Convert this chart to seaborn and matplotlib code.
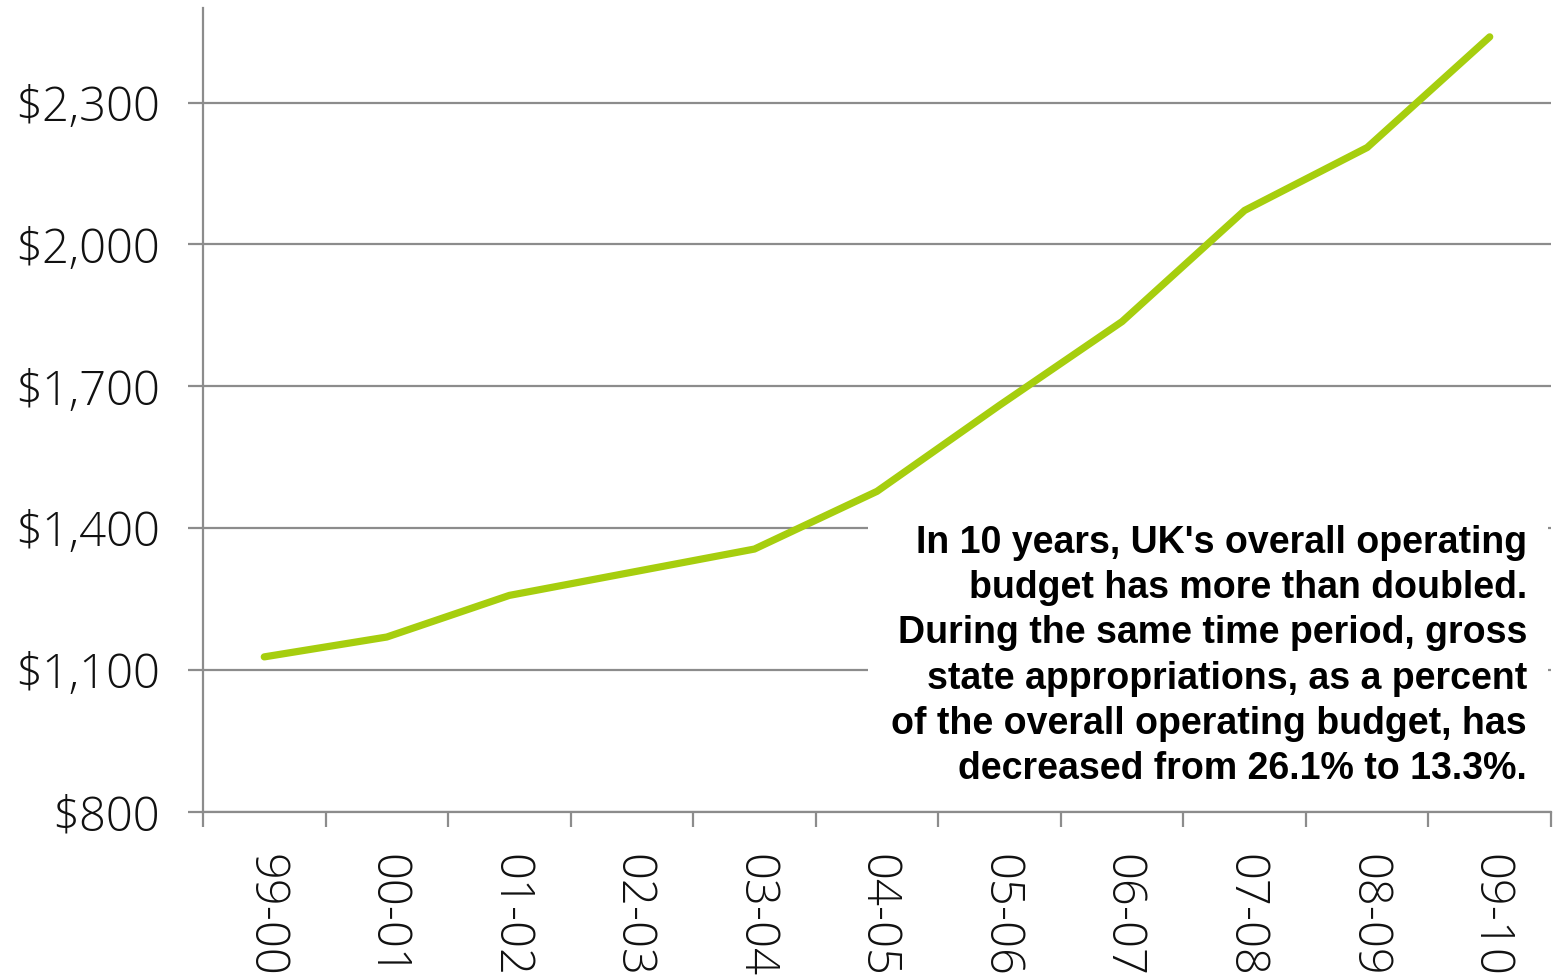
import matplotlib
matplotlib.use("Agg")
import matplotlib.pyplot as plt
import seaborn as sns
import pandas as pd
from matplotlib.patches import Rectangle
from matplotlib.ticker import FuncFormatter

# Fiscal years and overall operating budget (millions of dollars)
years = ["99-00", "00-01", "01-02", "02-03", "03-04", "04-05",
         "05-06", "06-07", "07-08", "08-09", "09-10"]
budget = [1128, 1170, 1258, 1307, 1356, 1478, 1660, 1837, 2072, 2205, 2439]
y_ticks = [800, 1100, 1400, 1700, 2000, 2300]

note = ("In 10 years, UK's overall operating\n"
        "budget has more than doubled.\n"
        "During the same time period, gross\n"
        "state appropriations, as a percent\n"
        "of the overall operating budget, has\n"
        "decreased from 26.1% to 13.3%.")

df = pd.DataFrame({"year": years, "budget": budget})

sns.set_theme(style="white")
plt.rcParams["font.family"] = ["Open Sans", "DejaVu Sans"]

fig = plt.figure(figsize=(15.57, 9.8), dpi=100)
ax = fig.add_axes([203 / 1557, 1 - 812 / 980, (1551 - 203) / 1557, (812 - 8) / 980])

grid_c = "#8c8c8c"
label_c = "#111111"
sns.lineplot(data=df, x="year", y="budget", ax=ax, color="#a6ce0e",
             linewidth=5.2, solid_capstyle="round", solid_joinstyle="round",
             zorder=4)

ax.set_xlim(-0.5, len(years) - 0.5)
ax.set_ylim(800, 2500)
ax.set_yticks(y_ticks)
ax.yaxis.set_major_formatter(FuncFormatter(lambda v, p: f"${v:,.0f}"))
ax.grid(axis="y", color=grid_c, linewidth=1.6, zorder=1)
ax.grid(axis="x", visible=False)

# Category boundaries carry the tick marks, centres carry the labels
ax.set_xticks([i - 0.5 for i in range(len(years) + 1)])
ax.set_xticklabels([])
ax.set_xticks(range(len(years)), minor=True)
ax.set_xticklabels(years, minor=True, rotation=270, fontsize=34,
                   fontweight="light", color=label_c)
ax.tick_params(axis="x", which="major", length=11, width=1.6, color=grid_c,
               direction="out", bottom=True)
ax.tick_params(axis="x", which="minor", length=0, pad=30, bottom=True)
ax.tick_params(axis="y", length=11, width=1.6, color=grid_c, direction="out",
               left=True, labelsize=34, pad=20, labelcolor=label_c)
for lbl in ax.get_yticklabels():
    lbl.set_fontweight("light")
    lbl.set_color(label_c)

ax.set_xlabel("")
ax.set_ylabel("")
for s in ["top", "right"]:
    ax.spines[s].set_visible(False)
for s in ["left", "bottom"]:
    ax.spines[s].set_color(grid_c)
    ax.spines[s].set_linewidth(1.6)

# White panel behind the note hides the gridlines
ax.add_patch(Rectangle((0.4933, 0.021), 0.5045, 0.348, transform=ax.transAxes,
                       facecolor="white", edgecolor="none", zorder=2))
ax.text(0.9822, 0.357, note, transform=ax.transAxes, ha="right", va="top",
        fontsize=27, fontweight="bold", color="#000000",
        family=["Liberation Sans", "DejaVu Sans"],
        linespacing=1.33, zorder=3)

fig.savefig("out.png", dpi=100, facecolor="white")
